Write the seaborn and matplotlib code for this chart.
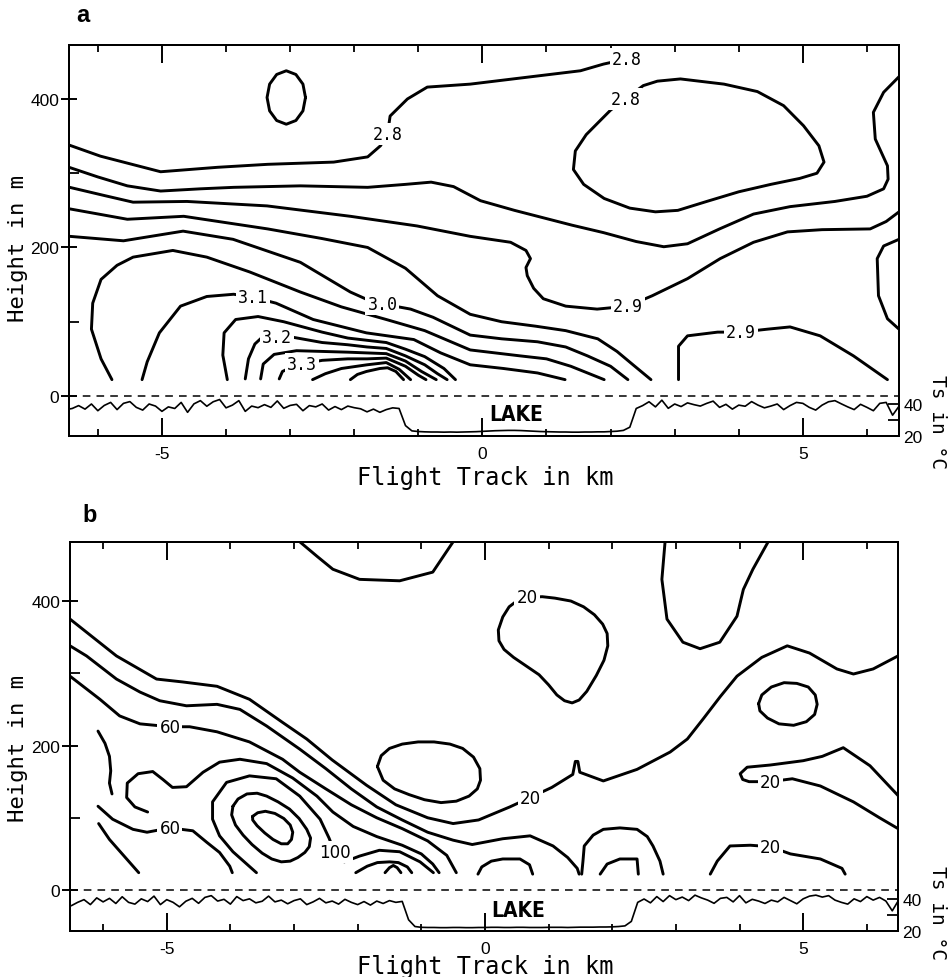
import numpy as np
import pandas as pd
import matplotlib
matplotlib.use("Agg")
import matplotlib.pyplot as plt
import seaborn as sns

# ---------------- data: panel a (contour lines, km along track / height in m) ----------------
A_280_OUTER_KM = [-6.45, -5.96, -5.02, -4.13, -3.35, -2.32, -1.79, -1.59, -1.48, -1.44, -1.17, -0.86, -0.19, 0.86, 1.53, 1.89, 2.26]
A_280_OUTER_M = [338, 323, 302, 308, 312, 315, 322, 337, 353, 377, 400, 416, 420, 431, 438, 447, 454]
A_280_OVAL_KM = [-2.76, -2.80, -2.91, -3.06, -3.21, -3.32, -3.36, -3.32, -3.21, -3.06, -2.91, -2.80, -2.76]
A_280_OVAL_M = [402, 420, 433, 438, 433, 420, 402, 384, 371, 366, 371, 384, 402]
A_280_LOOP_KM = [2.23, 2.51, 2.73, 3.09, 3.77, 4.29, 4.70, 5.01, 5.25, 5.33, 5.22, 4.95, 4.5, 4.0, 3.5, 3.05, 2.7, 2.3, 1.9, 1.58, 1.42, 1.45, 1.62, 1.85, 2.0, 2.23]
A_280_LOOP_M = [400, 418, 424, 427, 420, 410, 391, 364, 337, 315, 300, 293, 285, 275, 262, 250, 248, 253, 266, 285, 305, 330, 352, 372, 385, 400]
A_285_KM = [-6.45, -6.0, -5.54, -5.02, -4.4, -3.88, -2.84, -1.79, -1.2, -0.8, -0.45, -0.03, 0.5, 0.86, 1.4, 1.89, 2.4, 2.83, 3.2, 3.7, 4.23, 4.8, 5.5, 6.0, 6.26, 6.33, 6.32, 6.13, 6.1, 6.26, 6.5]
A_285_M = [308, 295, 283, 276, 279, 281, 283, 281, 285, 288, 282, 263, 250, 242, 230, 220, 208, 201, 205, 225, 245, 255, 262, 269, 279, 292, 310, 346, 382, 409, 430]
A_290_KM = [-6.44, -5.9, -5.45, -4.61, -3.36, -2.06, -1.02, -0.19, 0.44, 0.68, 0.75, 0.68, 0.70, 0.8, 0.95, 1.3, 1.79, 2.27, 2.65, 3.2, 3.71, 4.23, 4.76, 5.3, 6.05, 6.3, 6.5]
A_290_M = [281, 270, 261, 262, 256, 242, 229, 215, 207, 196, 185, 173, 162, 145, 131, 121, 117, 121, 135, 158, 185, 207, 221, 224, 225, 235, 248]
A_290_ARCH_KM = [3.06, 3.06, 3.2, 3.67, 4.03, 4.45, 4.8, 5.27, 5.79, 6.32]
A_290_ARCH_M = [22, 67, 81, 86, 86, 90, 93, 81, 54, 22]
A_295_KM = [-6.44, -5.54, -4.66, -3.35, -2.5, -1.79, -1.2, -0.7, -0.19, 0.3, 0.83, 1.3, 1.8, 2.1, 2.35, 2.63]
A_295_M = [252, 238, 242, 225, 212, 200, 172, 135, 110, 100, 94, 88, 77, 60, 42, 22]
A_295_EDGE_KM = [6.5, 6.26, 6.16, 6.18, 6.32, 6.5]
A_295_EDGE_M = [211, 202, 185, 135, 104, 90]
A_300_KM = [-6.44, -5.6, -5.1, -4.67, -3.89, -2.84, -2.06, -1.75, -1.56, -1.12, -0.77, -0.19, 0.3, 0.86, 1.3, 1.64, 2.0, 2.27]
A_300_M = [215, 209, 216, 222, 211, 180, 140, 128, 124, 117, 106, 82, 77, 73, 66, 54, 40, 22]
A_305_KM = [-5.78, -5.95, -6.1, -6.08, -5.95, -5.7, -5.45, -4.83, -4.3, -3.63, -2.84, -2.2, -1.5, -0.9, -0.19, 0.59, 1.0, 1.38, 1.9]
A_305_M = [22, 50, 90, 125, 157, 176, 187, 196, 187, 167, 140, 120, 103, 88, 62, 54, 50, 40, 22]
A_310_KM = [-5.31, -5.23, -5.04, -4.71, -4.3, -3.88, -3.58, -3.22, -2.64, -1.81, -1.07, -0.65, -0.19, 0.33, 0.86, 1.29]
A_310_M = [22, 46, 85, 121, 134, 137, 133, 125, 103, 85, 76, 58, 42, 37, 31, 22]
A_315_KM = [-3.98, -4.05, -4.03, -3.85, -3.5, -3.1, -2.5, -2.1, -1.8, -1.5, -1.2, -0.9, -0.6, -0.42]
A_315_M = [22, 55, 85, 103, 107, 100, 86, 78, 75, 72, 63, 53, 37, 22]
A_320_KM = [-3.70, -3.65, -3.55, -3.45, -3.2, -2.95, -2.5, -2.1, -1.8, -1.5, -1.2, -0.9, -0.7, -0.55]
A_320_M = [23, 50, 70, 78, 79, 79, 72, 69, 66, 64, 54, 42, 30, 22]
A_325_KM = [-3.46, -3.42, -3.25, -2.9, -2.5, -2.1, -1.8, -1.5, -1.2, -0.95, -0.72]
A_325_M = [23, 43, 56, 61, 60, 59, 58, 57, 47, 33, 22]
A_330_KM = [-3.17, -3.12, -2.95, -2.81, -2.5, -2.1, -1.8, -1.5, -1.2, -1.0, -0.88]
A_330_M = [23, 33, 40, 43, 48, 50, 50, 51, 40, 28, 22]
A_335_KM = [-2.65, -2.45, -2.2, -1.8, -1.5, -1.3, -1.12]
A_335_M = [22, 30, 37, 42, 45, 36, 22]
A_340_KM = [-2.06, -1.95, -1.81, -1.6, -1.48, -1.35, -1.23]
A_340_M = [22, 29, 33, 37, 38, 33, 22]

A_LABEL_TEXT = ["2.8", "2.8", "2.8", "2.9", "2.9", "3.0", "3.1", "3.2", "3.3"]
A_LABEL_KM = [-1.48, 2.26, 2.23, 2.27, 4.03, -1.56, -3.58, -3.2, -2.81]
A_LABEL_M = [353, 454, 400, 121, 86, 124, 133, 79, 43]

# ---------------- data: panel b ----------------
B_20_MAIN_KM = [-6.52, -5.79, -5.16, -4.75, -4.21, -3.7, -3.18, -2.8, -2.4, -1.86, -1.4, -0.9, -0.5, -0.1, 0.39, 0.71, 1.05, 1.38, 1.42, 1.46, 1.49, 1.86, 2.39, 2.91, 3.18, 3.43, 3.7, 3.96, 4.35, 4.75, 5.1, 5.53, 5.79, 6.1, 6.49]
B_20_MAIN_M = [375, 324, 292, 288, 282, 264, 232, 209, 180, 145, 118, 100, 92, 97, 115, 128, 142, 160, 178, 178, 163, 151, 167, 191, 209, 237, 268, 296, 322, 338, 328, 306, 299, 306, 324]
B_20_LOOP_KM = [0.66, 0.5, 0.38, 0.28, 0.21, 0.22, 0.3, 0.45, 0.65, 0.85, 1.0, 1.13, 1.25, 1.37, 1.48, 1.6, 1.75, 1.87, 1.93, 1.92, 1.85, 1.72, 1.55, 1.35, 1.1, 0.9, 0.66]
B_20_LOOP_M = [405, 400, 392, 378, 360, 345, 333, 322, 310, 298, 284, 270, 262, 259, 263, 275, 297, 318, 338, 355, 368, 381, 392, 400, 404, 406, 405]
B_20_MID_OVAL_KM = [-1.69, -1.63, -1.5, -1.3, -1.05, -0.8, -0.55, -0.35, -0.18, -0.08, -0.07, -0.12, -0.25, -0.45, -0.69, -0.95, -1.19, -1.42, -1.6, -1.69]
B_20_MID_OVAL_M = [171, 186, 196, 202, 205, 205, 202, 196, 184, 168, 152, 140, 130, 123, 121, 125, 132, 140, 152, 171]
B_20_RIGHT_OVAL_KM = [4.3, 4.35, 4.5, 4.7, 4.9, 5.08, 5.19, 5.22, 5.18, 5.05, 4.85, 4.62, 4.44, 4.32, 4.3]
B_20_RIGHT_OVAL_M = [258, 270, 281, 287, 286, 281, 270, 257, 243, 233, 228, 230, 238, 248, 258]
B_20_TOP_ARC_KM = [-2.91, -2.64, -2.39, -1.97, -1.34, -0.82, -0.5]
B_20_TOP_ARC_M = [482, 462, 444, 430, 428, 440, 482]
B_20_TOP_U_KM = [2.83, 2.78, 2.86, 3.11, 3.38, 3.69, 3.96, 4.06, 4.21, 4.45]
B_20_TOP_U_M = [482, 430, 375, 343, 334, 343, 379, 416, 444, 482]
B_20_HOOK_KM = [6.51, 6.05, 5.63, 5.3, 5.0, 4.48, 4.12, 4.01, 4.05, 4.15, 4.48, 4.83, 5.27, 5.79, 6.2, 6.51]
B_20_HOOK_M = [129, 172, 197, 185, 179, 173, 170, 161, 153, 150, 150, 154, 144, 122, 100, 84]
B_20_ARCH_KM = [3.54, 3.65, 3.85, 4.17, 4.48, 4.8, 5.27, 5.61, 5.66]
B_20_ARCH_M = [22, 40, 61, 62, 60, 50, 43, 30, 22]
B_40_KM = [-6.52, -6.26, -5.79, -5.42, -5.11, -4.69, -4.21, -3.85, -3.43, -2.91, -2.5, -2.1, -1.7, -1.3, -0.9, -0.5, -0.2, 0.28, 0.71, 1.07, 1.3, 1.45, 1.48]
B_40_M = [338, 324, 292, 274, 262, 255, 257, 250, 227, 195, 168, 140, 115, 97, 80, 69, 63, 71, 75, 61, 45, 30, 22]
B_40_ARCH_KM = [1.52, 1.54, 1.56, 1.7, 1.86, 2.12, 2.39, 2.55, 2.64, 2.75, 2.8]
B_40_ARCH_M = [22, 40, 61, 76, 84, 86, 84, 74, 61, 40, 22]
B_40_LOW_KM = [-6.07, -5.9, -5.7, -5.44]
B_40_LOW_M = [92, 70, 50, 24]
B_60_KM = [-6.52, -6.05, -5.74, -5.42, -4.95, -4.64, -4.21, -3.7, -3.18, -2.91, -2.5, -2.1, -1.7, -1.3, -0.9, -0.6, -0.45]
B_60_M = [296, 264, 241, 230, 226, 226, 219, 205, 181, 163, 140, 118, 100, 85, 68, 48, 24]
B_60_LOW_KM = [-6.08, -5.85, -5.53, -5.31, -4.95, -4.59, -4.37, -4.17, -4.01, -3.97]
B_60_LOW_M = [116, 98, 84, 80, 86, 82, 66, 52, 33, 24]
B_60_LEFT_KM = [-6.08, -5.97, -5.9, -5.88, -5.9, -5.86]
B_60_LEFT_M = [220, 203, 185, 165, 148, 133]
B_60_SMALL_KM = [-0.11, -0.05, 0.1, 0.28, 0.55, 0.7, 0.75]
B_60_SMALL_M = [22, 32, 40, 43, 43, 35, 22]
B_60_ARCH_KM = [1.81, 1.92, 2.12, 2.39, 2.41]
B_60_ARCH_M = [22, 36, 43, 43, 22]
B_80_KM = [-5.3, -5.5, -5.63, -5.62, -5.45, -5.22, -5.06, -4.91, -4.69, -4.43, -4.17, -3.85, -3.43, -3.02, -2.64, -2.39, -2.07, -1.7, -1.3, -1.0, -0.82, -0.72]
B_80_M = [108, 115, 128, 148, 161, 164, 153, 142, 143, 163, 177, 181, 175, 155, 130, 108, 88, 74, 62, 50, 36, 24]
B_100_KM = [-3.59, -3.96, -4.17, -4.28, -4.28, -4.06, -3.7, -3.28, -2.91, -2.59, -2.45, -2.36, -2.21, -1.97, -1.66, -1.34, -1.02, -0.81]
B_100_M = [24, 53, 75, 98, 122, 149, 158, 154, 130, 98, 72, 52, 39, 47, 55, 53, 39, 24]
B_120_KM = [-3.96, -3.88, -3.74, -3.58, -3.43, -3.25, -3.07, -2.92, -2.8, -2.74, -2.76, -2.83, -2.94, -3.06, -3.2, -3.35, -3.5, -3.66, -3.8, -3.92, -3.98, -3.96]
B_120_M = [116, 126, 133, 134, 130, 122, 112, 99, 84, 72, 60, 52, 45, 40, 39, 43, 51, 63, 76, 90, 104, 116]
B_120_GROUND_KM = [-2.03, -1.85, -1.69, -1.5, -1.36, -1.22, -1.15]
B_120_GROUND_M = [24, 33, 38, 39, 38, 32, 24]
B_140_KM = [-3.65, -3.57, -3.45, -3.3, -3.16, -3.06, -3.02, -3.04, -3.1, -3.2, -3.33, -3.46, -3.58, -3.65, -3.65]
B_140_M = [102, 107, 109, 106, 99, 90, 80, 70, 64, 64, 70, 79, 89, 97, 102]
B_140_GROUND_KM = [-1.57, -1.5, -1.44, -1.38, -1.32]
B_140_GROUND_M = [24, 31, 34, 31, 24]

B_LABEL_TEXT = ["20", "60", "60", "100", "20", "20", "20"]
B_LABEL_KM = [0.66, -4.95, -4.95, -2.36, 0.71, 4.48, 4.48]
B_LABEL_M = [405, 226, 86, 52, 128, 150, 60]

# ---------------- data: surface temperature Ts (deg C), sampled every 0.1 km ----------------
TS_TRACK_KM = np.round(np.arange(-65, 66) / 10.0, 1)
TS_A = [36.5, 37.2, 39.0, 36.8, 40.0, 35.8, 39.1, 41.0, 36.5, 40.4, 41.5, 37.9, 36.2, 40.0, 38.7, 35.4, 38.2, 37.2, 41.0, 34.8,
        40.1, 42.1, 38.6, 41.4, 42.8, 37.6, 39.3, 42.1, 35.4, 38.7, 37.7, 39.6, 37.9, 41.9, 37.3, 39.1, 39.8, 35.8, 39.0, 38.2,
        40.0, 36.2, 38.4, 36.5, 38.7, 37.7, 37.0, 35.1, 36.8, 34.8, 36.5, 37.6,
        37.2, 26.5, 23.2,
        22.8, 22.6, 22.5, 22.5, 22.4, 22.5, 22.4, 22.5, 22.6, 22.7, 22.9, 23.1, 23.3, 23.4, 23.5, 23.5, 23.4, 23.2, 23.0, 22.8,
        22.7, 22.6, 22.5, 22.5, 22.4, 22.4, 22.5, 22.5, 22.6, 22.6, 22.8, 23.0, 23.5, 25.5,
        37.2, 39.0, 41.4, 38.2, 42.4, 37.3, 40.0, 38.4, 40.7, 39.6, 38.7, 40.4, 41.8, 37.9, 39.8, 36.8, 39.3, 38.6, 41.5, 39.3,
        37.6, 38.7, 40.0, 36.5, 39.0, 41.0, 40.4, 37.9, 36.2, 39.3, 41.4, 42.1, 40.1, 38.2, 36.5, 39.8, 37.9, 35.8, 40.4, 41.0,
        33.0, 38.6]
TS_B = [35.8, 37.9, 39.6, 36.5, 40.7, 38.2, 40.4, 37.2, 41.4, 37.9, 36.8, 40.1, 38.4, 41.8, 36.5, 39.6, 37.9, 35.1, 38.6, 40.4,
        37.3, 41.0, 42.1, 38.7, 39.8, 36.8, 41.5, 39.0, 40.1, 37.6, 38.6, 41.8, 38.2, 39.3, 37.0, 39.0, 40.1, 36.5, 38.2, 40.4,
        37.6, 38.7, 36.8, 39.8, 37.9, 36.5, 38.4, 36.2, 38.7, 37.2, 39.0, 37.9,
        38.5, 27.0, 22.8,
        22.3, 22.2, 22.2, 22.1, 22.1, 22.2, 22.2, 22.1, 22.1, 22.2, 22.2, 22.3, 22.3, 22.2, 22.2, 22.3, 22.3, 22.2, 22.2, 22.2,
        22.3, 22.3, 22.3, 22.2, 22.3, 22.4, 22.4, 22.4, 22.5, 22.5, 22.6, 22.8, 23.2, 26.0,
        37.9, 40.0, 37.6, 41.5, 38.4, 42.1, 39.6, 41.2, 39.0, 42.4, 40.7, 39.3, 37.3, 40.4, 41.0, 38.2, 42.1, 37.6, 39.8, 38.7,
        37.2, 39.3, 38.2, 41.0, 39.0, 37.0, 40.1, 41.8, 42.4, 41.2, 42.1, 39.3, 37.9, 36.8, 40.1, 38.4, 41.5, 39.3, 41.0, 38.7,
        32.6, 39.3]

X_TICKS = [-5, 0, 5]
X_MINOR = [-6, -4, -3, -2, -1, 1, 2, 3, 4, 6]
Y_TICKS = [0, 200, 400]
Y_MINOR = [100, 300]
TS_TICKS = [20, 40]

# ---------------- style ----------------
sns.set_theme(style="ticks")
plt.rcParams["font.family"] = ["Liberation Sans", "DejaVu Sans"]
plt.rcParams.update({
    "axes.unicode_minus": False,
    "text.color": "black",
    "axes.edgecolor": "black",
    "axes.labelcolor": "black",
    "xtick.color": "black",
    "ytick.color": "black",
    "xtick.labelcolor": "black",
    "ytick.labelcolor": "black",
})
LW = 2.1
MONO = ["DejaVu Sans Mono", "DejaVu Sans"]

fig = plt.figure(figsize=(9.52, 9.78), dpi=100)
W, H = 952.0, 978.0


def draw(ax, km, m, lw=LW):
    frame = pd.DataFrame({"km": km, "m": m})
    sns.lineplot(data=frame, x="km", y="m", ax=ax, sort=False, estimator=None,
                 color="black", linewidth=lw, solid_joinstyle="round", solid_capstyle="round")


def setup(ax, xlim, ylim):
    ax.set_xlim(*xlim)
    ax.set_ylim(*ylim)
    ax.set_xticks(X_TICKS)
    ax.set_xticks(X_MINOR, minor=True)
    ax.set_yticks(Y_TICKS)
    ax.set_yticks(Y_MINOR, minor=True)
    ax.tick_params(axis="x", which="major", direction="in", length=13, width=1.4, top=True,
                   labelsize=12.5, pad=7)
    ax.tick_params(axis="x", which="minor", direction="in", length=5, width=1.3, top=True)
    ax.tick_params(axis="y", which="major", direction="inout", length=12, width=1.4, right=True,
                   labelsize=12.5, pad=1)
    ax.tick_params(axis="y", which="minor", direction="in", length=7, width=1.3, right=True)
    ax.set_xlabel("")
    ax.set_ylabel("")
    for s in ax.spines.values():
        s.set_linewidth(1.4)
        s.set_color("black")
    ax.axhline(0, color="black", lw=1.1, ls=(0, (5, 4)), zorder=1)


def ts_axis(ax, ts, ylim, lake_pos):
    axt = ax.twinx()
    frame = pd.DataFrame({"km": TS_TRACK_KM, "ts": ts})
    sns.lineplot(data=frame, x="km", y="ts", ax=axt, sort=False, estimator=None,
                 color="black", linewidth=1.2)
    axt.set_ylim(*ylim)
    axt.set_yticks(TS_TICKS)
    axt.set_yticks([30], minor=True)
    axt.tick_params(axis="y", which="both", direction="in", length=8, width=1.3,
                    labelsize=12.5, pad=3, colors="black")
    axt.set_ylabel("")
    axt.set_xlabel("")
    axt.text(lake_pos[0], lake_pos[1], "LAKE", ha="center", va="center", fontsize=15,
             fontweight="bold", family=["Liberation Sans Narrow", "DejaVu Sans"], fontstretch="condensed",
             color="black")
    return axt


def labels(ax, texts, kms, ms, family, size):
    for t, x, y in zip(texts, kms, ms):
        ax.text(x, y, t, ha="center", va="center", fontsize=size, family=family, zorder=6, color="black",
                bbox=dict(boxstyle="square,pad=0.12", fc="white", ec="none"))


# ---------------- panel a ----------------
ax_a = fig.add_axes([69 / W, 1 - 437 / H, 830 / W, 391 / H])
for km, m in [(A_280_OUTER_KM, A_280_OUTER_M), (A_280_OVAL_KM, A_280_OVAL_M), (A_280_LOOP_KM, A_280_LOOP_M),
              (A_285_KM, A_285_M), (A_290_KM, A_290_M), (A_290_ARCH_KM, A_290_ARCH_M),
              (A_295_KM, A_295_M), (A_295_EDGE_KM, A_295_EDGE_M), (A_300_KM, A_300_M),
              (A_305_KM, A_305_M), (A_310_KM, A_310_M), (A_315_KM, A_315_M), (A_320_KM, A_320_M),
              (A_325_KM, A_325_M), (A_330_KM, A_330_M), (A_335_KM, A_335_M), (A_340_KM, A_340_M)]:
    draw(ax_a, km, m)
setup(ax_a, (-6.45, 6.50), (-53.9, 472.7))
labels(ax_a, A_LABEL_TEXT, A_LABEL_KM, A_LABEL_M, MONO, 12)
ts_axis(ax_a, TS_A, (20, 264.4), (0.53, 33.75))

# ---------------- panel b ----------------
ax_b = fig.add_axes([70 / W, 1 - 932 / H, 828 / W, 389 / H])
for km, m in [(B_20_MAIN_KM, B_20_MAIN_M), (B_20_LOOP_KM, B_20_LOOP_M), (B_20_MID_OVAL_KM, B_20_MID_OVAL_M),
              (B_20_RIGHT_OVAL_KM, B_20_RIGHT_OVAL_M), (B_20_TOP_ARC_KM, B_20_TOP_ARC_M),
              (B_20_TOP_U_KM, B_20_TOP_U_M), (B_20_HOOK_KM, B_20_HOOK_M), (B_20_ARCH_KM, B_20_ARCH_M),
              (B_40_KM, B_40_M), (B_40_ARCH_KM, B_40_ARCH_M), (B_40_LOW_KM, B_40_LOW_M),
              (B_60_KM, B_60_M), (B_60_LOW_KM, B_60_LOW_M), (B_60_LEFT_KM, B_60_LEFT_M),
              (B_60_SMALL_KM, B_60_SMALL_M), (B_60_ARCH_KM, B_60_ARCH_M), (B_80_KM, B_80_M),
              (B_100_KM, B_100_M), (B_120_KM, B_120_M), (B_120_GROUND_KM, B_120_GROUND_M),
              (B_140_KM, B_140_M), (B_140_GROUND_KM, B_140_GROUND_M)]:
    draw(ax_b, km, m)
setup(ax_b, (-6.52, 6.49), (-56.7, 481.7))
labels(ax_b, B_LABEL_TEXT, B_LABEL_KM, B_LABEL_M, ["DejaVu Sans"], 12)
ts_axis(ax_b, TS_B, (20, 263.1), (0.52, 33.1))

# ---------------- figure texts ----------------
fig.text(83 / W, 1 - 16 / H, "a", ha="center", va="center", fontsize=17, fontweight="bold", color="black")
fig.text(90 / W, 1 - 515 / H, "b", ha="center", va="center", fontsize=17, fontweight="bold", color="black")
for yc in (478, 967):
    fig.text(485 / W, 1 - yc / H, "Flight Track in km", ha="center", va="center", fontsize=17, family=MONO,
             color="black")
for yc in (248, 748):
    fig.text(18 / W, 1 - yc / H, "Height in m", ha="center", va="center", rotation=90, fontsize=16, family=MONO,
             color="black")
for yc in (422, 913):
    fig.text(938 / W, 1 - yc / H, "Ts in °C", ha="center", va="center", rotation=270, fontsize=14, family=MONO,
             color="black")

fig.savefig("out.png", dpi=100)
